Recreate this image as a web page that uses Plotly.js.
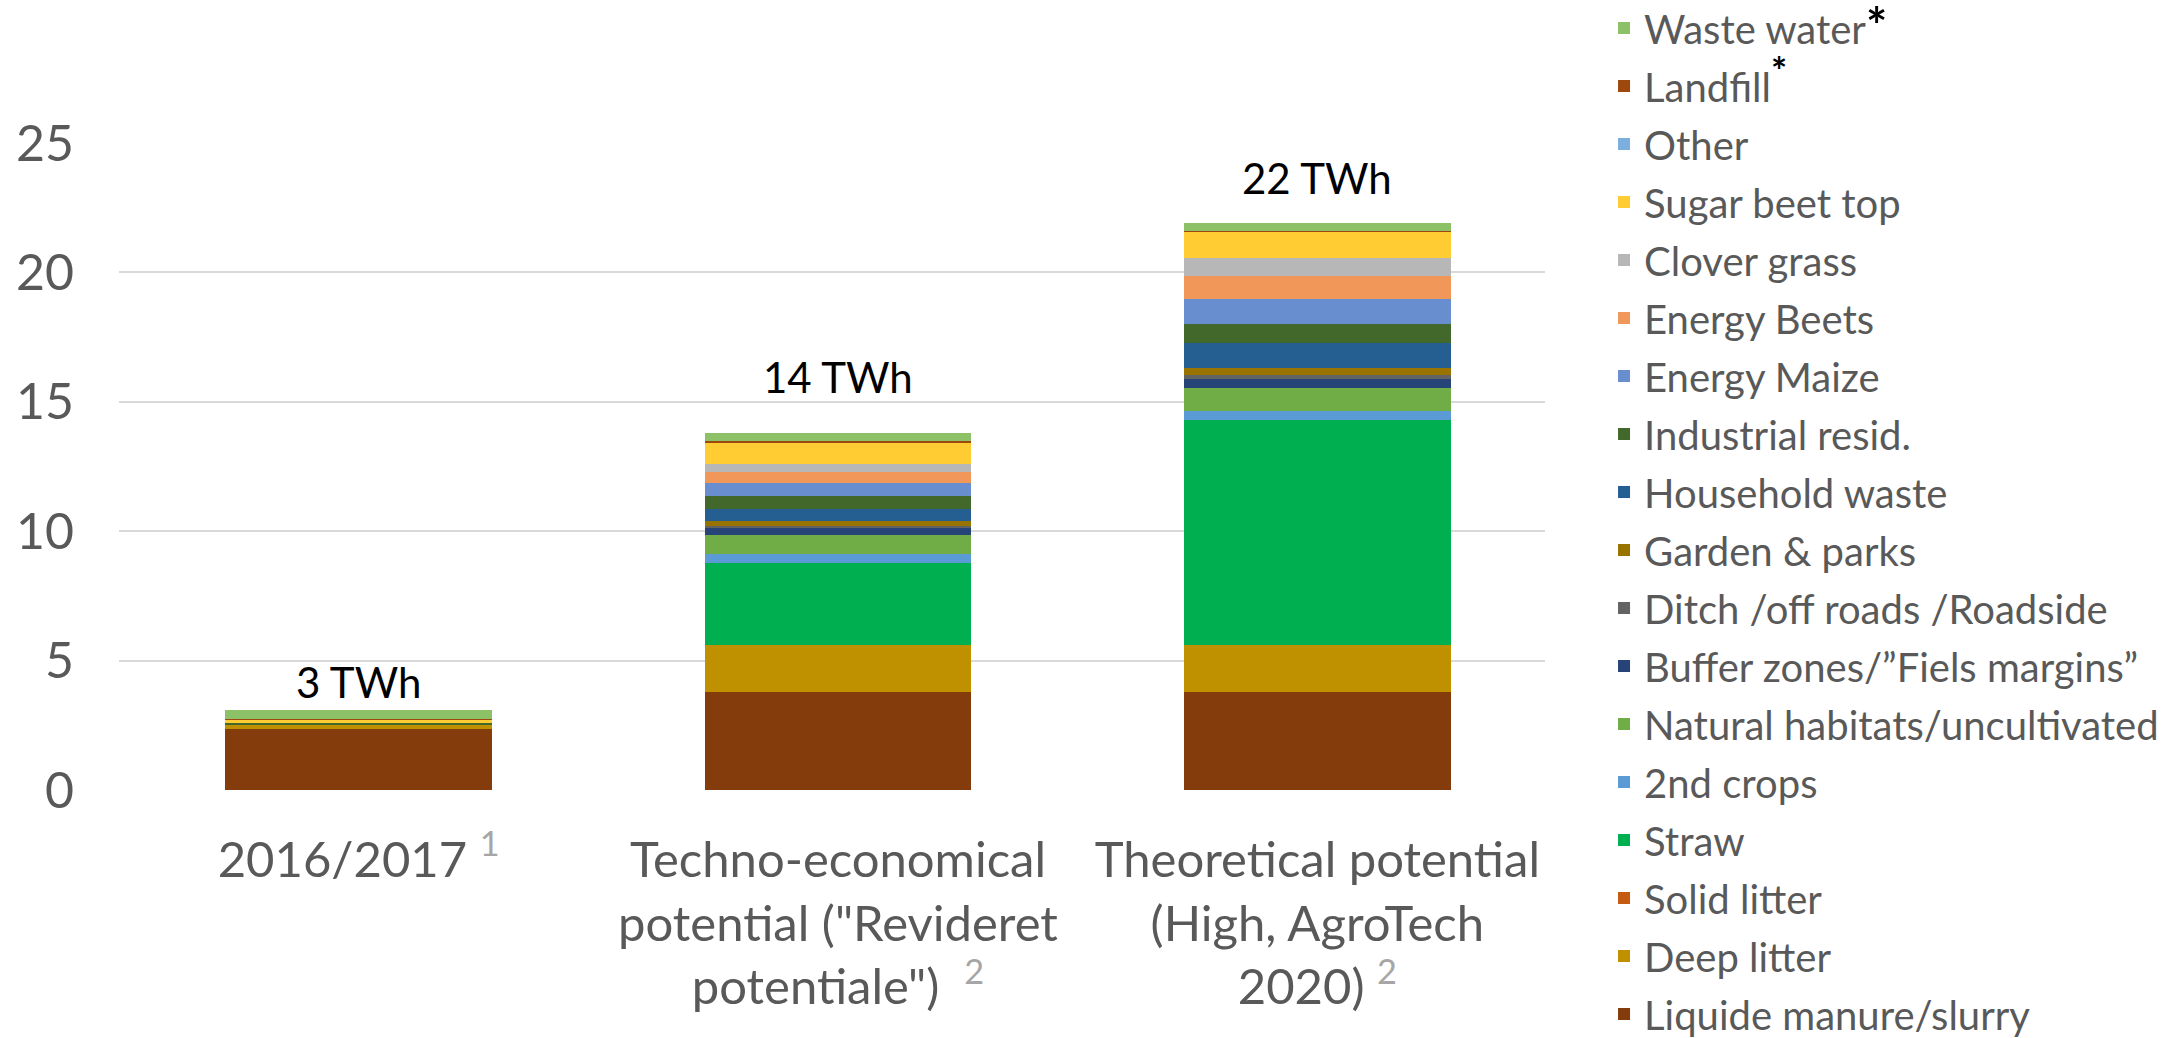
<!DOCTYPE html>
<html>
<head>
<meta charset="utf-8">
<script src="https://cdn.plot.ly/plotly-3.0.1.min.js"></script>
<style>
  html, body { margin: 0; padding: 0; background: #ffffff; }
  #chart { width: 2169px; height: 1038px; }
</style>
</head>
<body>
<div id="chart"></div>
<script>
// ---- Data (TWh) ----
const categories = [
  '2016/2017 <sup><span style="color:#A6A6A6">1</span></sup>',
  'Techno-economical<br>potential ("Revideret<br>potentiale")  <sup><span style="color:#A6A6A6">2</span></sup>',
  'Theoretical potential<br>(High, AgroTech<br>2020) <sup><span style="color:#A6A6A6">2</span></sup>'
];
const totalLabels = ['3 TWh', '14 TWh', '22 TWh'];

const liquidManure    = [2.36, 3.80, 3.80];
const deepLitter      = [0.15, 1.80, 1.80];
const solidLitter     = [0.00, 0.00, 0.00];
const straw           = [0.00, 3.19, 8.70];
const secondCrops     = [0.00, 0.31, 0.33];
const naturalHabitats = [0.00, 0.75, 0.89];
const bufferZones     = [0.00, 0.26, 0.35];
const ditchRoadside   = [0.00, 0.09, 0.18];
const gardenParks     = [0.00, 0.19, 0.27];
const householdWaste  = [0.00, 0.45, 0.97];
const industrialResid = [0.06, 0.53, 0.71];
const energyMaize     = [0.00, 0.50, 0.99];
const energyBeets     = [0.03, 0.42, 0.86];
const cloverGrass     = [0.00, 0.32, 0.71];
const sugarBeetTop    = [0.11, 0.81, 0.99];
const other           = [0.00, 0.00, 0.00];
const landfill        = [0.04, 0.05, 0.04];
const wasteWater      = [0.33, 0.32, 0.32];

const STAR_SUP = '<sup><span style="color:#000000;font-weight:bold;font-size:38px">*</span></sup>';
const STAR_INLINE = '<span style="color:#000000;font-weight:bold;font-size:50px">*</span>';
const seriesNames = [
  'Liquide manure/slurry', 'Deep litter', 'Solid litter', 'Straw', '2nd crops',
  'Natural habitats/uncultivated', 'Buffer zones/\u201DFiels margins\u201D',
  'Ditch /off roads /Roadside', 'Garden &amp; parks', 'Household waste',
  'Industrial resid.', 'Energy Maize', 'Energy Beets', 'Clover grass',
  'Sugar beet top', 'Other',
  'Landfill' + STAR_SUP,
  'Waste water' + STAR_INLINE
];
const seriesValues = [
  liquidManure, deepLitter, solidLitter, straw, secondCrops, naturalHabitats,
  bufferZones, ditchRoadside, gardenParks, householdWaste, industrialResid,
  energyMaize, energyBeets, cloverGrass, sugarBeetTop, other, landfill, wasteWater
];
const seriesColors = [
  '#843C0C', '#BF9000', '#C55A11', '#00B050', '#5B9BD5', '#70AD47',
  '#264478', '#636363', '#997300', '#255E91', '#43682B', '#698ED0',
  '#F1975A', '#B7B7B7', '#FFCD33', '#7CAFDD', '#9E480E', '#8CC168'
];

const FONT = 'Lato, "Open Sans", "Noto Sans", sans-serif';

const traces = seriesNames.map((name, i) => ({
  type: 'bar',
  name: name,
  legendgroup: 'g' + i,
  legendrank: 1000 - i,
  x: categories,
  y: seriesValues[i],
  marker: { color: seriesColors[i], line: { width: 0 } },
  hoverinfo: 'name+y'
}));

const totals = categories.map((_, j) => seriesValues.reduce((s, arr) => s + arr[j], 0));
const labelOffsets = [1.10, 2.15, 1.75];

const annotations = categories.map((c, j) => ({
  x: c, y: totals[j] + labelOffsets[j], xref: 'x', yref: 'y',
  text: totalLabels[j], showarrow: false,
  xanchor: 'center', yanchor: 'middle',
  font: { family: FONT, size: 42, color: '#000000' }
}));

const layout = {
  width: 2169, height: 1038,
  paper_bgcolor: '#ffffff', plot_bgcolor: '#ffffff',
  barmode: 'stack',
  bargap: 0.444,
  margin: { l: 119, r: 624, t: 142.5, b: 247.5, pad: 0, autoexpand: false },
  font: { family: FONT, color: '#595959' },
  xaxis: {
    type: 'category',
    range: [-0.5, 2.475],
    showgrid: false, zeroline: false, showline: false,
    ticks: '',
    tickfont: { family: FONT, size: 49, color: '#595959' },
    ticklabelstandoff: 37,
    automargin: false
  },
  yaxis: {
    range: [0, 25],
    tickvals: [0, 5, 10, 15, 20, 25],
    showgrid: true, gridcolor: '#D9D9D9', gridwidth: 2,
    zeroline: false, showline: false, ticks: '',
    tickfont: { family: FONT, size: 50, color: '#595959' },
    ticklabelstandoff: 44,
    automargin: false
  },
  legend: {
    x: 1.0414, xanchor: 'left',
    y: 1.2278, yanchor: 'top',
    font: { family: FONT, size: 40, color: '#595959' },
    bgcolor: 'rgba(0,0,0,0)',
    borderwidth: 0,
    traceorder: 'grouped',
    tracegroupgap: 3,
    maxheight: 2000,
    itemclick: false, itemdoubleclick: false
  },
  annotations: annotations,
  showlegend: true
};

Plotly.newPlot('chart', traces, layout, { displayModeBar: false, staticPlot: true });
</script>
</body>
</html>
